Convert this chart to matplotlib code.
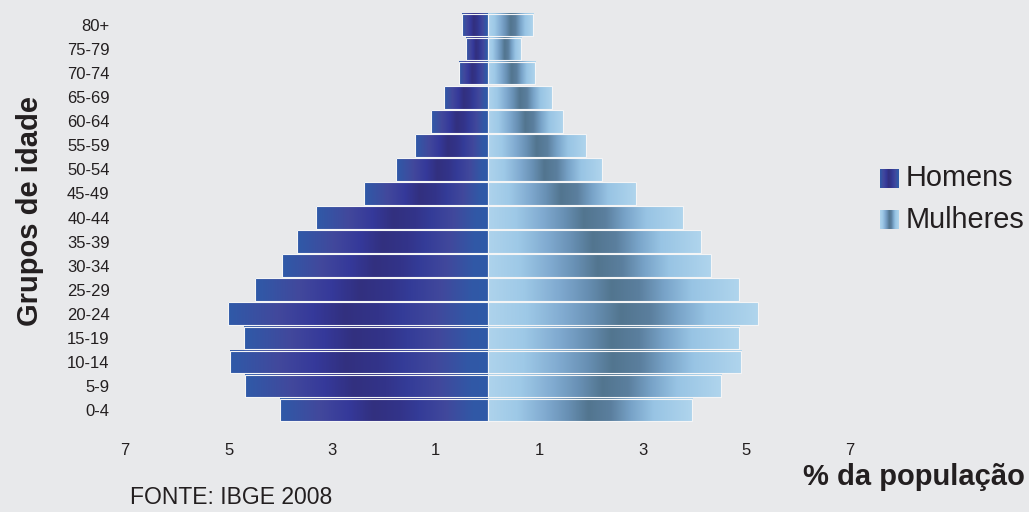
import numpy as np
import matplotlib.pyplot as plt
from matplotlib.colors import LinearSegmentedColormap

plt.rcParams['font.family'] = ['Liberation Sans', 'DejaVu Sans']

faixas = ['0-4', '5-9', '10-14', '15-19', '20-24', '25-29', '30-34', '35-39',
          '40-44', '45-49', '50-54', '55-59', '60-64', '65-69', '70-74', '75-79', '80+']
homens = [4.00, 4.69, 4.97, 4.71, 5.02, 4.48, 3.96, 3.67, 3.32, 2.39,
          1.76, 1.40, 1.09, 0.84, 0.55, 0.41, 0.50]
mulheres = [3.95, 4.50, 4.90, 4.85, 5.23, 4.85, 4.32, 4.13, 3.78, 2.87,
            2.22, 1.91, 1.45, 1.25, 0.92, 0.65, 0.87]
xticks = [-7, -5, -3, -1, 1, 3, 5, 7]

bg = '#e8e9eb'
txt = '#231f20'

# gradients, 0 = outer edge for men / centre for women
cm_h = LinearSegmentedColormap.from_list('homens', [
    (0, '#2f5aa8'), (0.19, '#42489c'), (0.33, '#35399a'), (0.45, '#32307f'),
    (0.58, '#33348a'), (0.67, '#343c98'), (0.8, '#41489c'), (0.93, '#3158a6'),
    (1, '#2f5aa8')])
cm_m = LinearSegmentedColormap.from_list('mulheres', [
    (0, '#aed3ec'), (0.14, '#9ec9e7'), (0.28, '#80aad0'), (0.39, '#6890b4'),
    (0.49, '#52758f'), (0.6, '#5b7f9e'), (0.7, '#78a3c8'), (0.81, '#98c4e4'),
    (1, '#b0d5ed')])
grad = np.linspace(0, 1, 256).reshape(1, -1)

fig = plt.figure(figsize=(10.29, 5.12), dpi=100, facecolor=bg)
ax = fig.add_axes([125/1029, 0.1568, 725/1029, 0.8225])
ax.set_facecolor(bg)

y = np.arange(len(faixas))
bh = ax.barh(y, [-v for v in homens], height=0.94, color='none', edgecolor='none')
bm = ax.barh(y, mulheres, height=0.94, color='none', edgecolor='none')

for r in bh:
    x0, y0, w, h = r.get_x(), r.get_y(), r.get_width(), r.get_height()
    ax.imshow(grad, cmap=cm_h, aspect='auto', extent=[x0 + w, x0, y0, y0 + h],
              interpolation='bilinear', zorder=2)
for r in bm:
    x0, y0, w, h = r.get_x(), r.get_y(), r.get_width(), r.get_height()
    ax.imshow(grad, cmap=cm_m, aspect='auto', extent=[x0, x0 + w, y0, y0 + h],
              interpolation='bilinear', zorder=2)
for r in list(bh) + list(bm):
    r.set_edgecolor('#f4f5f6')
    r.set_linewidth(0.8)
    r.set_zorder(3)

ax.set_xlim(-7, 7)
ax.set_ylim(-0.9, 16.6)
ax.set_xticks(xticks)
ax.set_xticklabels([str(abs(t)) for t in xticks])
ax.set_yticks(y)
ax.set_yticklabels(faixas)
ax.tick_params(axis='both', length=0, labelsize=12, labelcolor=txt)
ax.tick_params(axis='x', pad=8)
ax.tick_params(axis='y', pad=11)
for s in ax.spines.values():
    s.set_visible(False)

fig.text(30/1029, 1 - 211/512, 'Grupos de idade', rotation=90, fontsize=21,
         fontweight='bold', color=txt, ha='center', va='center')
fig.text(1025/1029, 1 - 477/512, '% da população', fontsize=21,
         fontweight='bold', color=txt, ha='right', va='center')
fig.text(130/1029, 1 - 498/512, 'FONTE: IBGE 2008', fontsize=16.5,
         color=txt, ha='left', va='center')

# legend
for cm, lab, yc in [(cm_h, 'Homens', 178.5), (cm_m, 'Mulheres', 219.5)]:
    la = fig.add_axes([880/1029, 1 - (yc + 9.5)/512, 19/1029, 19/512])
    la.imshow(grad, cmap=cm, aspect='auto', interpolation='bilinear')
    la.axis('off')
    fig.text(906/1029, 1 - yc/512, lab, fontsize=20.8, color=txt,
             ha='left', va='center')

fig.savefig('out.png', dpi=100, facecolor=bg)
